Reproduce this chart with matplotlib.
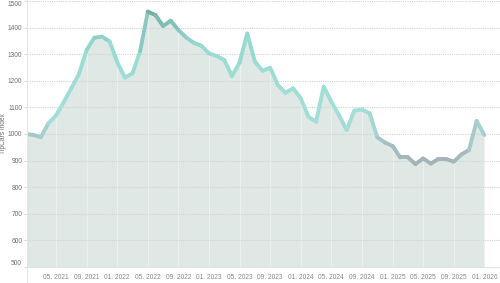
import numpy as np
import pandas as pd
import matplotlib
matplotlib.use("Agg")
import matplotlib.pyplot as plt
from matplotlib.collections import LineCollection
from matplotlib.colors import LinearSegmentedColormap, Normalize
from matplotlib.lines import Line2D

plt.rcParams['font.family'] = ['Liberation Sans', 'DejaVu Sans']

# monthly index, Jan 2021 .. Jan 2026
months = pd.date_range("2021-01-01", periods=61, freq="MS")
index_values = [
    1000, 997, 988, 1040, 1070, 1120, 1172, 1226, 1316, 1362,
    1366, 1348, 1270, 1212, 1228, 1312, 1460, 1447, 1406, 1426,
    1391, 1363, 1343, 1332, 1303, 1293, 1278, 1218, 1269, 1378,
    1272, 1238, 1249, 1184, 1155, 1172, 1134, 1065, 1046, 1178,
    1121, 1071, 1015, 1088, 1092, 1078, 988, 968, 955, 912,
    912, 887, 908, 889, 906, 906, 896, 923, 940, 1049,
    996,
]
y_ticks = [500, 600, 700, 800, 900, 1000, 1100, 1200, 1300, 1400, 1500]
tick_every = 4  # label every 4th month starting May 2021
first_tick = 4

x = np.arange(len(index_values))
y = np.array(index_values, dtype=float)

fig = plt.figure(figsize=(5.0, 2.83), dpi=100)
ax = fig.add_axes([27 / 500, 1 - 267 / 283, 1 - 27 / 500, 266 / 283])

ax.fill_between(x, 500, y, color='#dfe8e4', lw=0, zorder=1)

# line coloured by value: grey low, cyan mid, darker teal high
cmap = LinearSegmentedColormap.from_list(
    'tc', [(0.0, '#a3b1b6'), (0.2, '#a6c9c9'), (0.3, '#a3dfd8'),
           (0.75, '#98dcd3'), (0.88, '#86c8c0'), (1.0, '#6fa9a2')])
norm = Normalize(880, 1465)
pts = np.column_stack([x, y]).reshape(-1, 1, 2)
segs = np.concatenate([pts[:-1], pts[1:]], axis=1)
lc = LineCollection(segs, cmap=cmap, norm=norm, linewidths=2.8,
                    capstyle='round', joinstyle='round', zorder=4)
lc.set_array((y[:-1] + y[1:]) / 2)
ax.add_collection(lc)

ax.set_xlim(0.2, 62.05)
ax.set_ylim(500, 1500)

ticks = list(range(first_tick, len(months), tick_every))
ax.set_xticks(ticks)
ax.set_xticklabels([months[i].strftime('%m. %Y') for i in ticks])
ax.set_yticks(y_ticks)
ax.set_yticklabels([str(v) for v in y_ticks])

for v in y_ticks:
    ax.axhline(v, color='#d2d2d2', lw=0.8, ls=(0, (1, 1)), zorder=2)
for t in ticks:
    ax.axvline(t, color='white', lw=0.6, alpha=0.45, zorder=2)

for s in ['top', 'right', 'left']:
    ax.spines[s].set_visible(False)
ax.spines['bottom'].set_color('#e3e3e3')
ax.spines['bottom'].set_linewidth(0.8)

ax.tick_params(axis='y', length=2, width=0.6, color='#d0d0d0', pad=1.5,
               labelsize=4.8, labelcolor='#707070')
ax.tick_params(axis='x', length=0, pad=5, labelsize=4.8, labelcolor='#8a8a8a')
ylabels = ax.get_yticklabels()
ylabels[0].set_va('bottom')
ylabels[-1].set_va('top')

fig.add_artist(Line2D([27 / 500, 27 / 500], [0, 1], color='#e6e6e6', lw=0.8))

ax.set_ylabel('TipCars index', fontsize=4.8, color='#707070')
ax.yaxis.set_label_coords(-0.043, 0.5)

fig.savefig('out.png', dpi=100, facecolor='white')
